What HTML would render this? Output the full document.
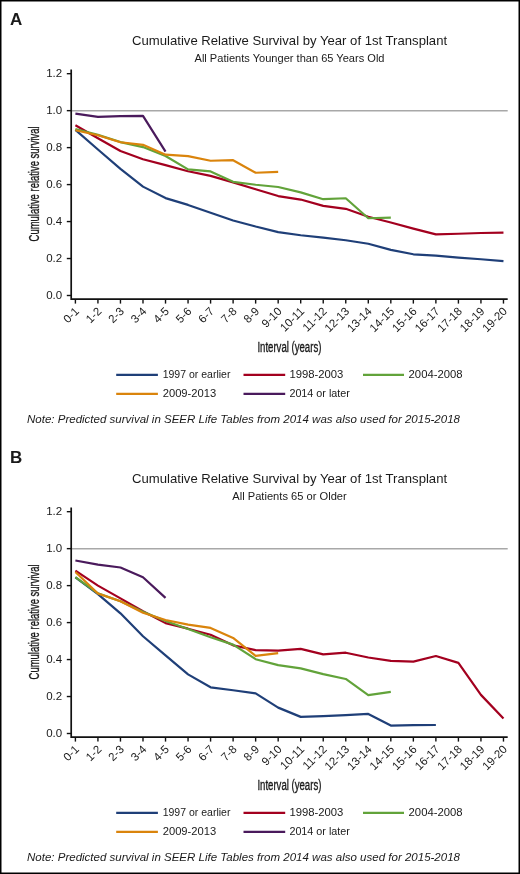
<!DOCTYPE html>
<html><head><meta charset="utf-8"><style>
html,body{margin:0;padding:0;background:#fff;}
svg{display:block;will-change:transform;}
text{font-family:"Liberation Sans", sans-serif;fill:#1a1a1a;}
</style></head><body>
<svg width="520" height="874" viewBox="0 0 520 874">
<rect x="0" y="0" width="520" height="874" fill="#000"/>
<rect x="1.5" y="1.5" width="517" height="871" fill="#fff"/>
<g transform="translate(0,0)">
<text x="10" y="24.6" font-family='"Liberation Sans", sans-serif' font-weight="bold" font-size="17">A</text>
<text x="289.6" y="45.2" text-anchor="middle" font-size="13.5" textLength="315" lengthAdjust="spacingAndGlyphs">Cumulative Relative Survival by Year of 1st Transplant</text>
<text x="289.5" y="61.8" text-anchor="middle" font-size="11" textLength="190" lengthAdjust="spacingAndGlyphs">All Patients Younger than 65 Years Old</text>
<line x1="72" y1="110.85" x2="507.7" y2="110.85" stroke="#a8a8a8" stroke-width="1.5"/>
<path d="M71.2 69.6 V299.1 H507.7" fill="none" stroke="#111" stroke-width="1.7"/>
<line x1="66.8" y1="295.50" x2="71" y2="295.50" stroke="#111" stroke-width="1.4"/>
<text x="62.2" y="299.20" text-anchor="end" font-size="11.5">0.0</text>
<line x1="66.8" y1="258.53" x2="71" y2="258.53" stroke="#111" stroke-width="1.4"/>
<text x="62.2" y="262.23" text-anchor="end" font-size="11.5">0.2</text>
<line x1="66.8" y1="221.56" x2="71" y2="221.56" stroke="#111" stroke-width="1.4"/>
<text x="62.2" y="225.26" text-anchor="end" font-size="11.5">0.4</text>
<line x1="66.8" y1="184.59" x2="71" y2="184.59" stroke="#111" stroke-width="1.4"/>
<text x="62.2" y="188.29" text-anchor="end" font-size="11.5">0.6</text>
<line x1="66.8" y1="147.62" x2="71" y2="147.62" stroke="#111" stroke-width="1.4"/>
<text x="62.2" y="151.32" text-anchor="end" font-size="11.5">0.8</text>
<line x1="66.8" y1="110.65" x2="71" y2="110.65" stroke="#111" stroke-width="1.4"/>
<text x="62.2" y="114.35" text-anchor="end" font-size="11.5">1.0</text>
<line x1="66.8" y1="73.68" x2="71" y2="73.68" stroke="#111" stroke-width="1.4"/>
<text x="62.2" y="77.38" text-anchor="end" font-size="11.5">1.2</text>
<line x1="75.40" y1="299" x2="75.40" y2="303.6" stroke="#111" stroke-width="1.4"/>
<text transform="translate(79.70,312.0) rotate(-45)" text-anchor="end" font-size="11.5">0-1</text>
<line x1="97.93" y1="299" x2="97.93" y2="303.6" stroke="#111" stroke-width="1.4"/>
<text transform="translate(102.23,312.0) rotate(-45)" text-anchor="end" font-size="11.5">1-2</text>
<line x1="120.46" y1="299" x2="120.46" y2="303.6" stroke="#111" stroke-width="1.4"/>
<text transform="translate(124.76,312.0) rotate(-45)" text-anchor="end" font-size="11.5">2-3</text>
<line x1="142.99" y1="299" x2="142.99" y2="303.6" stroke="#111" stroke-width="1.4"/>
<text transform="translate(147.29,312.0) rotate(-45)" text-anchor="end" font-size="11.5">3-4</text>
<line x1="165.52" y1="299" x2="165.52" y2="303.6" stroke="#111" stroke-width="1.4"/>
<text transform="translate(169.82,312.0) rotate(-45)" text-anchor="end" font-size="11.5">4-5</text>
<line x1="188.05" y1="299" x2="188.05" y2="303.6" stroke="#111" stroke-width="1.4"/>
<text transform="translate(192.35,312.0) rotate(-45)" text-anchor="end" font-size="11.5">5-6</text>
<line x1="210.58" y1="299" x2="210.58" y2="303.6" stroke="#111" stroke-width="1.4"/>
<text transform="translate(214.88,312.0) rotate(-45)" text-anchor="end" font-size="11.5">6-7</text>
<line x1="233.11" y1="299" x2="233.11" y2="303.6" stroke="#111" stroke-width="1.4"/>
<text transform="translate(237.41,312.0) rotate(-45)" text-anchor="end" font-size="11.5">7-8</text>
<line x1="255.64" y1="299" x2="255.64" y2="303.6" stroke="#111" stroke-width="1.4"/>
<text transform="translate(259.94,312.0) rotate(-45)" text-anchor="end" font-size="11.5">8-9</text>
<line x1="278.17" y1="299" x2="278.17" y2="303.6" stroke="#111" stroke-width="1.4"/>
<text transform="translate(282.47,312.0) rotate(-45)" text-anchor="end" font-size="11.5">9-10</text>
<line x1="300.70" y1="299" x2="300.70" y2="303.6" stroke="#111" stroke-width="1.4"/>
<text transform="translate(305.00,312.0) rotate(-45)" text-anchor="end" font-size="11.5">10-11</text>
<line x1="323.23" y1="299" x2="323.23" y2="303.6" stroke="#111" stroke-width="1.4"/>
<text transform="translate(327.53,312.0) rotate(-45)" text-anchor="end" font-size="11.5">11-12</text>
<line x1="345.76" y1="299" x2="345.76" y2="303.6" stroke="#111" stroke-width="1.4"/>
<text transform="translate(350.06,312.0) rotate(-45)" text-anchor="end" font-size="11.5">12-13</text>
<line x1="368.29" y1="299" x2="368.29" y2="303.6" stroke="#111" stroke-width="1.4"/>
<text transform="translate(372.59,312.0) rotate(-45)" text-anchor="end" font-size="11.5">13-14</text>
<line x1="390.82" y1="299" x2="390.82" y2="303.6" stroke="#111" stroke-width="1.4"/>
<text transform="translate(395.12,312.0) rotate(-45)" text-anchor="end" font-size="11.5">14-15</text>
<line x1="413.35" y1="299" x2="413.35" y2="303.6" stroke="#111" stroke-width="1.4"/>
<text transform="translate(417.65,312.0) rotate(-45)" text-anchor="end" font-size="11.5">15-16</text>
<line x1="435.88" y1="299" x2="435.88" y2="303.6" stroke="#111" stroke-width="1.4"/>
<text transform="translate(440.18,312.0) rotate(-45)" text-anchor="end" font-size="11.5">16-17</text>
<line x1="458.41" y1="299" x2="458.41" y2="303.6" stroke="#111" stroke-width="1.4"/>
<text transform="translate(462.71,312.0) rotate(-45)" text-anchor="end" font-size="11.5">17-18</text>
<line x1="480.94" y1="299" x2="480.94" y2="303.6" stroke="#111" stroke-width="1.4"/>
<text transform="translate(485.24,312.0) rotate(-45)" text-anchor="end" font-size="11.5">18-19</text>
<line x1="503.47" y1="299" x2="503.47" y2="303.6" stroke="#111" stroke-width="1.4"/>
<text transform="translate(507.77,312.0) rotate(-45)" text-anchor="end" font-size="11.5">19-20</text>
<text transform="translate(39.2,241.4) rotate(-90)" font-size="15" textLength="115" lengthAdjust="spacingAndGlyphs" stroke="#1a1a1a" stroke-width="0.35">Cumulative relative survival</text>
<text x="257.4" y="352.2" font-size="14" textLength="64" lengthAdjust="spacingAndGlyphs" stroke="#1a1a1a" stroke-width="0.35">Interval (years)</text>
<polyline points="75.40,129.87 97.93,149.47 120.46,168.88 142.99,186.62 165.52,198.08 188.05,204.92 210.58,212.69 233.11,220.45 255.64,226.55 278.17,232.10 300.70,235.24 323.23,237.64 345.76,240.23 368.29,243.74 390.82,249.84 413.35,254.28 435.88,255.57 458.41,257.61 480.94,259.27 503.47,261.12" fill="none" stroke="#1f3f78" stroke-width="2.2" stroke-linejoin="round"/>
<polyline points="75.40,125.25 97.93,138.19 120.46,150.95 142.99,159.27 165.52,165.18 188.05,171.28 210.58,175.90 233.11,182.37 255.64,189.21 278.17,196.05 300.70,199.56 323.23,205.85 345.76,208.81 368.29,216.75 390.82,222.48 413.35,228.58 435.88,234.31 458.41,233.76 480.94,233.02 503.47,232.65" fill="none" stroke="#a3001f" stroke-width="2.2" stroke-linejoin="round"/>
<polyline points="75.40,128.95 97.93,134.87 120.46,142.07 142.99,147.07 165.52,155.94 188.05,169.43 210.58,171.47 233.11,181.82 255.64,184.77 278.17,186.99 300.70,192.35 323.23,199.19 345.76,198.27 368.29,218.23 390.82,217.68" fill="none" stroke="#62a33a" stroke-width="2.2" stroke-linejoin="round"/>
<polyline points="75.40,130.24 97.93,135.24 120.46,142.26 142.99,144.85 165.52,154.64 188.05,156.12 210.58,160.74 233.11,160.19 255.64,172.76 278.17,171.84" fill="none" stroke="#da840c" stroke-width="2.2" stroke-linejoin="round"/>
<polyline points="75.40,113.61 97.93,116.93 120.46,116.20 142.99,115.83 165.52,151.69" fill="none" stroke="#4a1a5c" stroke-width="2.2" stroke-linejoin="round"/>
<line x1="116.2" y1="374.9" x2="157.9" y2="374.9" stroke="#1f3f78" stroke-width="2.2"/>
<text x="162.70000000000002" y="378.30" font-size="10.5" textLength="67.7" lengthAdjust="spacingAndGlyphs">1997 or earlier</text>
<line x1="243.5" y1="374.9" x2="285.2" y2="374.9" stroke="#a3001f" stroke-width="2.2"/>
<text x="289.4" y="378.30" font-size="10.5" textLength="54" lengthAdjust="spacingAndGlyphs">1998-2003</text>
<line x1="363.0" y1="374.9" x2="404.0" y2="374.9" stroke="#62a33a" stroke-width="2.2"/>
<text x="408.59999999999997" y="378.30" font-size="10.5" textLength="54" lengthAdjust="spacingAndGlyphs">2004-2008</text>
<line x1="116.2" y1="393.9" x2="157.9" y2="393.9" stroke="#da840c" stroke-width="2.2"/>
<text x="162.70000000000002" y="397.30" font-size="10.5" textLength="53.5" lengthAdjust="spacingAndGlyphs">2009-2013</text>
<line x1="243.5" y1="393.9" x2="285.2" y2="393.9" stroke="#4a1a5c" stroke-width="2.2"/>
<text x="289.4" y="397.30" font-size="10.5" textLength="60.5" lengthAdjust="spacingAndGlyphs">2014 or later</text>
<text x="27" y="422.9" font-size="11" font-style="italic" textLength="433" lengthAdjust="spacingAndGlyphs">Note: Predicted survival in SEER Life Tables from 2014 was also used for 2015-2018</text>
</g>
<g transform="translate(0,438)">
<text x="10" y="24.6" font-family='"Liberation Sans", sans-serif' font-weight="bold" font-size="17">B</text>
<text x="289.6" y="45.2" text-anchor="middle" font-size="13.5" textLength="315" lengthAdjust="spacingAndGlyphs">Cumulative Relative Survival by Year of 1st Transplant</text>
<text x="289.5" y="61.8" text-anchor="middle" font-size="11" textLength="114.5" lengthAdjust="spacingAndGlyphs">All Patients 65 or Older</text>
<line x1="72" y1="110.85" x2="507.7" y2="110.85" stroke="#a8a8a8" stroke-width="1.5"/>
<path d="M71.2 69.6 V299.1 H507.7" fill="none" stroke="#111" stroke-width="1.7"/>
<line x1="66.8" y1="295.50" x2="71" y2="295.50" stroke="#111" stroke-width="1.4"/>
<text x="62.2" y="299.20" text-anchor="end" font-size="11.5">0.0</text>
<line x1="66.8" y1="258.53" x2="71" y2="258.53" stroke="#111" stroke-width="1.4"/>
<text x="62.2" y="262.23" text-anchor="end" font-size="11.5">0.2</text>
<line x1="66.8" y1="221.56" x2="71" y2="221.56" stroke="#111" stroke-width="1.4"/>
<text x="62.2" y="225.26" text-anchor="end" font-size="11.5">0.4</text>
<line x1="66.8" y1="184.59" x2="71" y2="184.59" stroke="#111" stroke-width="1.4"/>
<text x="62.2" y="188.29" text-anchor="end" font-size="11.5">0.6</text>
<line x1="66.8" y1="147.62" x2="71" y2="147.62" stroke="#111" stroke-width="1.4"/>
<text x="62.2" y="151.32" text-anchor="end" font-size="11.5">0.8</text>
<line x1="66.8" y1="110.65" x2="71" y2="110.65" stroke="#111" stroke-width="1.4"/>
<text x="62.2" y="114.35" text-anchor="end" font-size="11.5">1.0</text>
<line x1="66.8" y1="73.68" x2="71" y2="73.68" stroke="#111" stroke-width="1.4"/>
<text x="62.2" y="77.38" text-anchor="end" font-size="11.5">1.2</text>
<line x1="75.40" y1="299" x2="75.40" y2="303.6" stroke="#111" stroke-width="1.4"/>
<text transform="translate(79.70,312.0) rotate(-45)" text-anchor="end" font-size="11.5">0-1</text>
<line x1="97.93" y1="299" x2="97.93" y2="303.6" stroke="#111" stroke-width="1.4"/>
<text transform="translate(102.23,312.0) rotate(-45)" text-anchor="end" font-size="11.5">1-2</text>
<line x1="120.46" y1="299" x2="120.46" y2="303.6" stroke="#111" stroke-width="1.4"/>
<text transform="translate(124.76,312.0) rotate(-45)" text-anchor="end" font-size="11.5">2-3</text>
<line x1="142.99" y1="299" x2="142.99" y2="303.6" stroke="#111" stroke-width="1.4"/>
<text transform="translate(147.29,312.0) rotate(-45)" text-anchor="end" font-size="11.5">3-4</text>
<line x1="165.52" y1="299" x2="165.52" y2="303.6" stroke="#111" stroke-width="1.4"/>
<text transform="translate(169.82,312.0) rotate(-45)" text-anchor="end" font-size="11.5">4-5</text>
<line x1="188.05" y1="299" x2="188.05" y2="303.6" stroke="#111" stroke-width="1.4"/>
<text transform="translate(192.35,312.0) rotate(-45)" text-anchor="end" font-size="11.5">5-6</text>
<line x1="210.58" y1="299" x2="210.58" y2="303.6" stroke="#111" stroke-width="1.4"/>
<text transform="translate(214.88,312.0) rotate(-45)" text-anchor="end" font-size="11.5">6-7</text>
<line x1="233.11" y1="299" x2="233.11" y2="303.6" stroke="#111" stroke-width="1.4"/>
<text transform="translate(237.41,312.0) rotate(-45)" text-anchor="end" font-size="11.5">7-8</text>
<line x1="255.64" y1="299" x2="255.64" y2="303.6" stroke="#111" stroke-width="1.4"/>
<text transform="translate(259.94,312.0) rotate(-45)" text-anchor="end" font-size="11.5">8-9</text>
<line x1="278.17" y1="299" x2="278.17" y2="303.6" stroke="#111" stroke-width="1.4"/>
<text transform="translate(282.47,312.0) rotate(-45)" text-anchor="end" font-size="11.5">9-10</text>
<line x1="300.70" y1="299" x2="300.70" y2="303.6" stroke="#111" stroke-width="1.4"/>
<text transform="translate(305.00,312.0) rotate(-45)" text-anchor="end" font-size="11.5">10-11</text>
<line x1="323.23" y1="299" x2="323.23" y2="303.6" stroke="#111" stroke-width="1.4"/>
<text transform="translate(327.53,312.0) rotate(-45)" text-anchor="end" font-size="11.5">11-12</text>
<line x1="345.76" y1="299" x2="345.76" y2="303.6" stroke="#111" stroke-width="1.4"/>
<text transform="translate(350.06,312.0) rotate(-45)" text-anchor="end" font-size="11.5">12-13</text>
<line x1="368.29" y1="299" x2="368.29" y2="303.6" stroke="#111" stroke-width="1.4"/>
<text transform="translate(372.59,312.0) rotate(-45)" text-anchor="end" font-size="11.5">13-14</text>
<line x1="390.82" y1="299" x2="390.82" y2="303.6" stroke="#111" stroke-width="1.4"/>
<text transform="translate(395.12,312.0) rotate(-45)" text-anchor="end" font-size="11.5">14-15</text>
<line x1="413.35" y1="299" x2="413.35" y2="303.6" stroke="#111" stroke-width="1.4"/>
<text transform="translate(417.65,312.0) rotate(-45)" text-anchor="end" font-size="11.5">15-16</text>
<line x1="435.88" y1="299" x2="435.88" y2="303.6" stroke="#111" stroke-width="1.4"/>
<text transform="translate(440.18,312.0) rotate(-45)" text-anchor="end" font-size="11.5">16-17</text>
<line x1="458.41" y1="299" x2="458.41" y2="303.6" stroke="#111" stroke-width="1.4"/>
<text transform="translate(462.71,312.0) rotate(-45)" text-anchor="end" font-size="11.5">17-18</text>
<line x1="480.94" y1="299" x2="480.94" y2="303.6" stroke="#111" stroke-width="1.4"/>
<text transform="translate(485.24,312.0) rotate(-45)" text-anchor="end" font-size="11.5">18-19</text>
<line x1="503.47" y1="299" x2="503.47" y2="303.6" stroke="#111" stroke-width="1.4"/>
<text transform="translate(507.77,312.0) rotate(-45)" text-anchor="end" font-size="11.5">19-20</text>
<text transform="translate(39.2,241.4) rotate(-90)" font-size="15" textLength="115" lengthAdjust="spacingAndGlyphs" stroke="#1a1a1a" stroke-width="0.35">Cumulative relative survival</text>
<text x="257.4" y="352.2" font-size="14" textLength="64" lengthAdjust="spacingAndGlyphs" stroke="#1a1a1a" stroke-width="0.35">Interval (years)</text>
<polyline points="75.40,139.30 97.93,156.12 120.46,175.35 142.99,198.27 165.52,217.31 188.05,236.35 210.58,249.29 233.11,252.25 255.64,255.39 278.17,269.62 300.70,278.86 323.23,278.12 345.76,277.20 368.29,275.91 390.82,287.55 413.35,287.18 435.88,287.00" fill="none" stroke="#1f3f78" stroke-width="2.2" stroke-linejoin="round"/>
<polyline points="75.40,132.65 97.93,147.62 120.46,160.37 142.99,173.31 165.52,185.14 188.05,190.69 210.58,196.79 233.11,207.33 255.64,212.13 278.17,212.69 300.70,210.84 323.23,216.38 345.76,214.72 368.29,219.53 390.82,222.85 413.35,223.59 435.88,218.05 458.41,224.89 480.94,256.87 503.47,280.53" fill="none" stroke="#a3001f" stroke-width="2.2" stroke-linejoin="round"/>
<polyline points="75.40,139.12 97.93,155.38 120.46,163.33 142.99,173.87 165.52,182.93 188.05,191.06 210.58,199.19 233.11,206.59 255.64,221.19 278.17,227.11 300.70,230.43 323.23,236.16 345.76,240.97 368.29,257.05 390.82,253.91" fill="none" stroke="#62a33a" stroke-width="2.2" stroke-linejoin="round"/>
<polyline points="75.40,133.94 97.93,155.57 120.46,163.33 142.99,174.79 165.52,182.00 188.05,186.62 210.58,189.95 233.11,199.93 255.64,217.86 278.17,215.09" fill="none" stroke="#da840c" stroke-width="2.2" stroke-linejoin="round"/>
<polyline points="75.40,122.48 97.93,126.55 120.46,129.50 142.99,139.30 165.52,159.82" fill="none" stroke="#4a1a5c" stroke-width="2.2" stroke-linejoin="round"/>
<line x1="116.2" y1="374.9" x2="157.9" y2="374.9" stroke="#1f3f78" stroke-width="2.2"/>
<text x="162.70000000000002" y="378.30" font-size="10.5" textLength="67.7" lengthAdjust="spacingAndGlyphs">1997 or earlier</text>
<line x1="243.5" y1="374.9" x2="285.2" y2="374.9" stroke="#a3001f" stroke-width="2.2"/>
<text x="289.4" y="378.30" font-size="10.5" textLength="54" lengthAdjust="spacingAndGlyphs">1998-2003</text>
<line x1="363.0" y1="374.9" x2="404.0" y2="374.9" stroke="#62a33a" stroke-width="2.2"/>
<text x="408.59999999999997" y="378.30" font-size="10.5" textLength="54" lengthAdjust="spacingAndGlyphs">2004-2008</text>
<line x1="116.2" y1="393.9" x2="157.9" y2="393.9" stroke="#da840c" stroke-width="2.2"/>
<text x="162.70000000000002" y="397.30" font-size="10.5" textLength="53.5" lengthAdjust="spacingAndGlyphs">2009-2013</text>
<line x1="243.5" y1="393.9" x2="285.2" y2="393.9" stroke="#4a1a5c" stroke-width="2.2"/>
<text x="289.4" y="397.30" font-size="10.5" textLength="60.5" lengthAdjust="spacingAndGlyphs">2014 or later</text>
<text x="27" y="422.9" font-size="11" font-style="italic" textLength="433" lengthAdjust="spacingAndGlyphs">Note: Predicted survival in SEER Life Tables from 2014 was also used for 2015-2018</text>
</g>
</svg>
</body></html>
